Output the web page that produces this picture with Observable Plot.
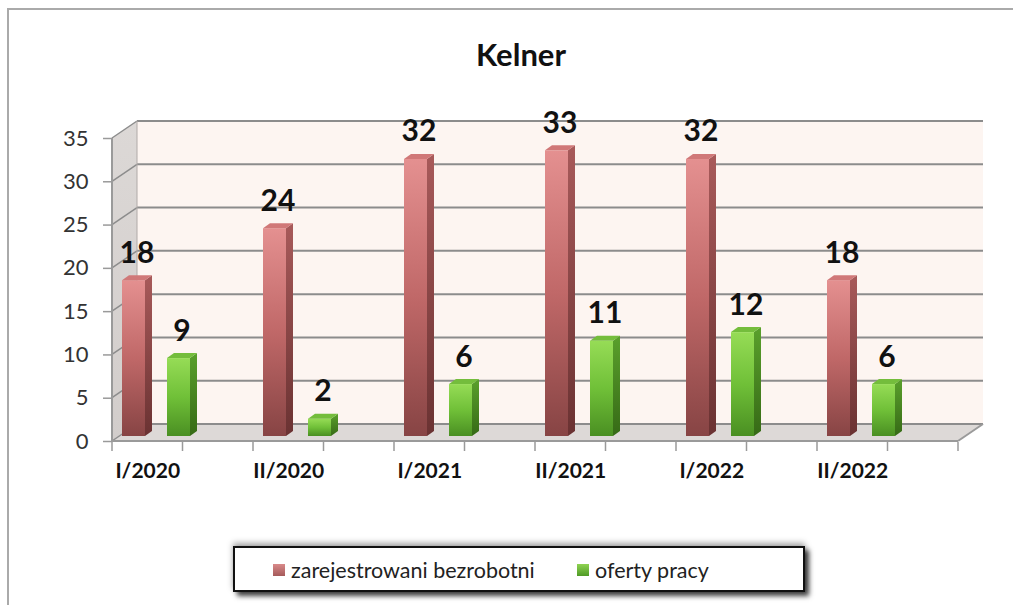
<!DOCTYPE html>
<html><head><meta charset="utf-8">
<script src="https://cdn.jsdelivr.net/npm/d3@7"></script>
<script src="https://cdn.jsdelivr.net/npm/@observablehq/plot@0.6"></script>
<style>
body{margin:0;background:#fff;font-family:Lato,"Open Sans",sans-serif;}
#page{position:relative;width:1013px;height:605px;overflow:hidden;background:#fff;}
#frame{position:absolute;left:7px;top:8px;right:-5px;bottom:-5px;border-left:2px solid #aaa;border-top:2px solid #aaa;}
#title{position:absolute;left:0;width:1042px;top:35px;text-align:center;font-weight:bold;font-size:31px;line-height:38px;color:#111;}
#chart{position:absolute;left:0;top:95px;}
#legend{position:absolute;left:233px;top:546px;width:568px;height:42px;border:2px solid #111;background:#fff;
  box-shadow:4px 4px 5px rgba(0,0,0,0.75),0 -3px 6px rgba(0,0,0,0.35);font-size:21.5px;color:#222;}
#legend .sw{position:absolute;top:16px;width:12px;height:12px;}
#legend .lb{position:absolute;top:9px;line-height:26px;white-space:nowrap;}
</style>
</head><body>
<svg width="0" height="0" style="position:absolute">
  <defs>
    <linearGradient id="gRedFront" x1="0" y1="0" x2="0" y2="1">
      <stop offset="0" stop-color="#e49090"/><stop offset="0.5" stop-color="#c06868"/><stop offset="1" stop-color="#874444"/>
    </linearGradient>
    <linearGradient id="gGreenFront" x1="0" y1="0" x2="0" y2="1">
      <stop offset="0" stop-color="#96dc56"/><stop offset="0.5" stop-color="#70c038"/><stop offset="1" stop-color="#4a8f22"/>
    </linearGradient>
    <linearGradient id="gRedSide" x1="0" y1="0" x2="0" y2="1">
      <stop offset="0" stop-color="#a85a5a"/><stop offset="1" stop-color="#6a3232"/>
    </linearGradient>
    <linearGradient id="gGreenSide" x1="0" y1="0" x2="0" y2="1">
      <stop offset="0" stop-color="#5aa02c"/><stop offset="1" stop-color="#366a16"/>
    </linearGradient>
    <linearGradient id="gWall" x1="0" y1="0" x2="0" y2="1">
      <stop offset="0" stop-color="#dcd8d6"/><stop offset="1" stop-color="#d2cdcb"/>
    </linearGradient>
  </defs>
</svg>
<div id="page">
  <div id="frame"></div>
  <div id="title">Kelner</div>
  <div id="chart"></div>
  <div id="legend"></div>
</div>
<script>
const categories = ["I/2020","II/2020","I/2021","II/2021","I/2022","II/2022"];
const seriesNames = ["zarejestrowani bezrobotni","oferty pracy"];
const unemployed = [18,24,32,33,32,18];
const offers = [9,2,6,11,12,6];
const yTicks = [0,5,10,15,20,25,30,35];

const redData = categories.map((c,i)=>({cat:c, v:unemployed[i]}));
const greenData = categories.map((c,i)=>({cat:c, v:offers[i]}));

const DX = 25, DY = -17;        // wall depth
const BW = 141;                 // band width (px)
const redIn = [10, 33], greenIn = [55, 78]; // front face x-range within band
const SD = 7, SU = -5;          // bar side depth
const LIFT = -5;                // bars stand a bit inside the floor

function walls(index, scales) {
  const {x, y} = scales;
  const [x0, x1] = x.range();
  const y0 = y(0), yT = y(35);
  const g = d3.create("svg:g");
  g.append("rect").attr("x", x0+DX).attr("y", yT+DY).attr("width", x1-x0).attr("height", y0-yT).attr("fill", "#fdf5f1");
  g.append("path").attr("d", `M${x0},${y0}L${x0},${yT}L${x0+DX},${yT+DY}L${x0+DX},${y0+DY}Z`).attr("fill", "url(#gWall)");
  g.append("path").attr("d", `M${x0},${y0}L${x0+DX},${y0+DY}L${x1+DX},${y0+DY}L${x1},${y0}Z`).attr("fill", "#ddd9d7");
  for (const v of yTicks) {
    g.append("line").attr("x1", x0+DX).attr("x2", x1+DX).attr("y1", y(v)+DY).attr("y2", y(v)+DY)
      .attr("stroke", "#8c8c8c").attr("stroke-width", 2);
    g.append("line").attr("x1", x0).attr("x2", x0+DX).attr("y1", y(v)).attr("y2", y(v)+DY)
      .attr("stroke", "#8c8c8c").attr("stroke-width", 1.5);
  }
  g.append("line").attr("x1", x0).attr("x2", x0).attr("y1", y0).attr("y2", yT).attr("stroke", "#9a9a9a").attr("stroke-width", 2);
  g.append("line").attr("x1", x0).attr("x2", x1).attr("y1", y0).attr("y2", y0).attr("stroke", "#9a9a9a").attr("stroke-width", 2);
  g.append("line").attr("x1", x1).attr("x2", x1+DX).attr("y1", y0).attr("y2", y0+DY).attr("stroke", "#9a9a9a").attr("stroke-width", 2);
  g.append("line").attr("x1", x0+DX).attr("x2", x0+DX).attr("y1", y0+DY).attr("y2", yT+DY).attr("stroke", "#b0aaa8").attr("stroke-width", 1);
  const bw = x.bandwidth();
  for (let k = 0; k <= categories.length*2; k++) {
    const xx = x0 + k*bw/2;
    g.append("line").attr("x1", xx).attr("x2", xx).attr("y1", y0+1).attr("y2", y0+10).attr("stroke", "#9a9a9a").attr("stroke-width", 1.5);
  }
  return g.node();
}

function bars3d(data, inset, sideFill, topFill) {
  return (index, scales) => {
    const {x, y} = scales;
    const g = d3.create("svg:g");
    for (const d of data) {
      const xl = x(d.cat) + inset[0], xr = x(d.cat) + inset[1];
      const yt = y(d.v) + LIFT, yb = y(0) + LIFT;
      g.append("path").attr("d", `M${xr},${yt}L${xr+SD},${yt+SU}L${xr+SD},${yb+SU}L${xr},${yb}Z`).attr("fill", sideFill);
      g.append("path").attr("d", `M${xl},${yt}L${xl+SD},${yt+SU}L${xr+SD},${yt+SU}L${xr},${yt}Z`).attr("fill", topFill);
    }
    return g.node();
  };
}

const chart = Plot.plot({
  width: 1013,
  height: 410,
  marginTop: 43,
  marginBottom: 64,
  marginLeft: 112,
  marginRight: 55,
  style: {fontFamily: "Lato, 'Open Sans', sans-serif", fontSize: "22px", color: "#333", background: "transparent", overflow: "visible"},
  x: {domain: categories, padding: 0, axis: null},
  y: {domain: [0, 35], axis: null},
  marks: [
    walls,
    Plot.axisY({ticks: yTicks, tickSize: 9, tickPadding: 15, stroke: "#9a9a9a", fill: "#333", strokeWidth: 1.5, label: null, fontSize: 22}),
    Plot.barY(redData, {x: "cat", y: "v", fill: "url(#gRedFront)", insetLeft: redIn[0], insetRight: BW - redIn[1], dy: LIFT}),
    Plot.barY(greenData, {x: "cat", y: "v", fill: "url(#gGreenFront)", insetLeft: greenIn[0], insetRight: BW - greenIn[1], dy: LIFT}),
    bars3d(redData, redIn, "url(#gRedSide)", "#d07878"),
    bars3d(greenData, greenIn, "url(#gGreenSide)", "#74bd3c"),
    Plot.text(redData, {x: "cat", y: "v", text: d => String(d.v), dx: (redIn[0]+redIn[1])/2 + 3 - BW/2, dy: LIFT - 18, lineAnchor: "bottom", fontSize: 30, fontWeight: "bold", fill: "#111"}),
    Plot.text(greenData, {x: "cat", y: "v", text: d => String(d.v), dx: (greenIn[0]+greenIn[1])/2 + 3 - BW/2, dy: LIFT - 18, lineAnchor: "bottom", fontSize: 30, fontWeight: "bold", fill: "#111"}),
    Plot.text(categories, {x: d => d, frameAnchor: "bottom", lineAnchor: "top", dy: 22, dx: -BW/4, fontSize: 21, fontWeight: "bold", fill: "#111"})
  ]
});
document.getElementById("chart").appendChild(chart);

const legend = document.getElementById("legend");
const legendItems = [
  {name: seriesNames[0], bg: "linear-gradient(#d98a8a,#a55a5a)", sw: 38, lb: 56},
  {name: seriesNames[1], bg: "linear-gradient(#8fd352,#4f9a26)", sw: 342, lb: 360}
];
for (const it of legendItems) {
  const s = document.createElement("div"); s.className = "sw"; s.style.left = it.sw + "px"; s.style.background = it.bg; legend.appendChild(s);
  const t = document.createElement("div"); t.className = "lb"; t.style.left = it.lb + "px"; t.textContent = it.name; legend.appendChild(t);
}
</script>
</body></html>
